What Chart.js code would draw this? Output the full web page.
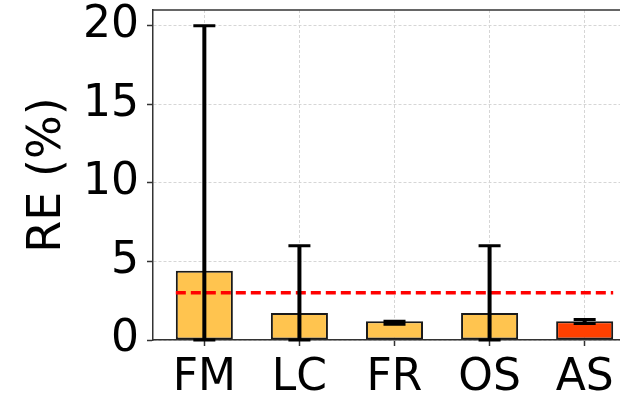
<!DOCTYPE html>
<html>
<head>
<meta charset="utf-8">
<script src="https://cdn.jsdelivr.net/npm/chart.js@4/dist/chart.umd.min.js"></script>
<style>
  html, body { margin: 0; padding: 0; background: #fff; overflow: hidden; }
</style>
</head>
<body>
<canvas id="chart_re" width="636" height="394"></canvas>
<script>
// values
var methods = ['FM', 'LC', 'FR', 'OS', 'AS'];
var reValues = [4.4, 1.72, 1.2, 1.72, 1.2];
var errLow = [0, 0, 1.0, 0, 1.05];
var errHigh = [20, 6, 1.2, 6, 1.3];
var threshold = 3;
var yTicks = [0, 5, 10, 15, 20];

var barColors = methods.map(function (m) {
  return m == 'AS' ? '#ff4000' : '#ffc44f';
});
var barWidth = 0.6;

var fontFamily = "'DejaVu Sans', sans-serif";

// error bars + top spine
var errorBarPlugin = {
  id: 'errorBars',
  afterDatasetsDraw: function (chart) {
    var ctx = chart.ctx;
    var xs = chart.scales.x;
    var ys = chart.scales.y;
    ctx.save();
    ctx.strokeStyle = '#000';
    for (var i = 0; i < methods.length; i++) {
      var px = xs.getPixelForValue(i);
      var lo = ys.getPixelForValue(errLow[i]);
      var hi = ys.getPixelForValue(errHigh[i]);
      ctx.lineWidth = 4;
      ctx.beginPath();
      ctx.moveTo(px, lo);
      ctx.lineTo(px, hi);
      ctx.stroke();
      ctx.lineWidth = 3;
      ctx.beginPath();
      ctx.moveTo(px - 11, lo);
      ctx.lineTo(px + 11, lo);
      ctx.moveTo(px - 11, hi);
      ctx.lineTo(px + 11, hi);
      ctx.stroke();
    }
    var area = chart.chartArea;
    ctx.strokeStyle = '#333';
    ctx.lineWidth = 1.5;
    ctx.beginPath();
    ctx.moveTo(area.left, area.top);
    ctx.lineTo(area.right, area.top);
    ctx.stroke();
    ctx.restore();
  }
};

var ctx_re = document.getElementById('chart_re').getContext('2d');
var chartRE = new Chart(ctx_re, {
  type: 'bar',
  data: {
    datasets: [{
      type: 'line',
      order: 0,
      data: [{ x: -barWidth / 2, y: threshold }, { x: methods.length - 1 + barWidth / 2, y: threshold }],
      borderColor: '#ff0000',
      borderWidth: 3.5,
      borderDash: [10, 5],
      pointRadius: 0,
      fill: false
    }, {
      order: 1,
      data: reValues.map(function (v, i) { return { x: i, y: v }; }),
      backgroundColor: barColors,
      borderColor: '#1a1a1a',
      borderWidth: 2,
      borderSkipped: false,
      categoryPercentage: 1.0,
      barPercentage: barWidth
    }]
  },
  options: {
    responsive: false,
    devicePixelRatio: 1,
    animation: false,
    layout: { padding: { top: 10, left: 0, right: 0, bottom: 0 } },
    plugins: {
      legend: { display: false },
      tooltip: { enabled: false }
    },
    scales: {
      x: {
        type: 'linear',
        min: -0.54,
        max: methods.length - 1 + 0.54,
        offset: false,
        afterBuildTicks: function (s) {
          s.ticks = methods.map(function (m, i) { return { value: i }; });
        },
        afterFit: function (s) {
          s.height = 54;
          s.paddingLeft = 0;
          s.paddingRight = 0;
        },
        ticks: {
          autoSkip: false,
          maxRotation: 0,
          padding: 6,
          color: '#000',
          font: { family: fontFamily, size: 44 },
          callback: function (v) { return methods[v]; }
        },
        grid: {
          offset: false,
          color: '#d6d6d6',
          lineWidth: 1,
          tickLength: 6,
          tickColor: '#333',
          tickWidth: 1.5
        },
        border: { display: true, color: '#333', width: 1.5, dash: [3, 2] }
      },
      y: {
        min: 0,
        max: 21,
        afterBuildTicks: function (s) {
          s.ticks = yTicks.map(function (v) { return { value: v }; });
        },
        afterFit: function (s) {
          s.width = 153;
          s.paddingTop = 0;
          s.paddingBottom = 0;
        },
        ticks: {
          padding: 8,
          color: '#000',
          font: { family: fontFamily, size: 44 }
        },
        grid: {
          color: '#d6d6d6',
          lineWidth: 1,
          tickLength: 6,
          tickColor: '#333',
          tickWidth: 1.5
        },
        border: { display: true, color: '#333', width: 1.5, dash: [3, 2] },
        title: {
          display: true,
          text: 'RE (%)',
          color: '#000',
          font: { family: fontFamily, size: 46 },
          padding: { top: 20, bottom: 0 }
        }
      }
    }
  },
  plugins: [errorBarPlugin]
});
</script>
</body>
</html>
